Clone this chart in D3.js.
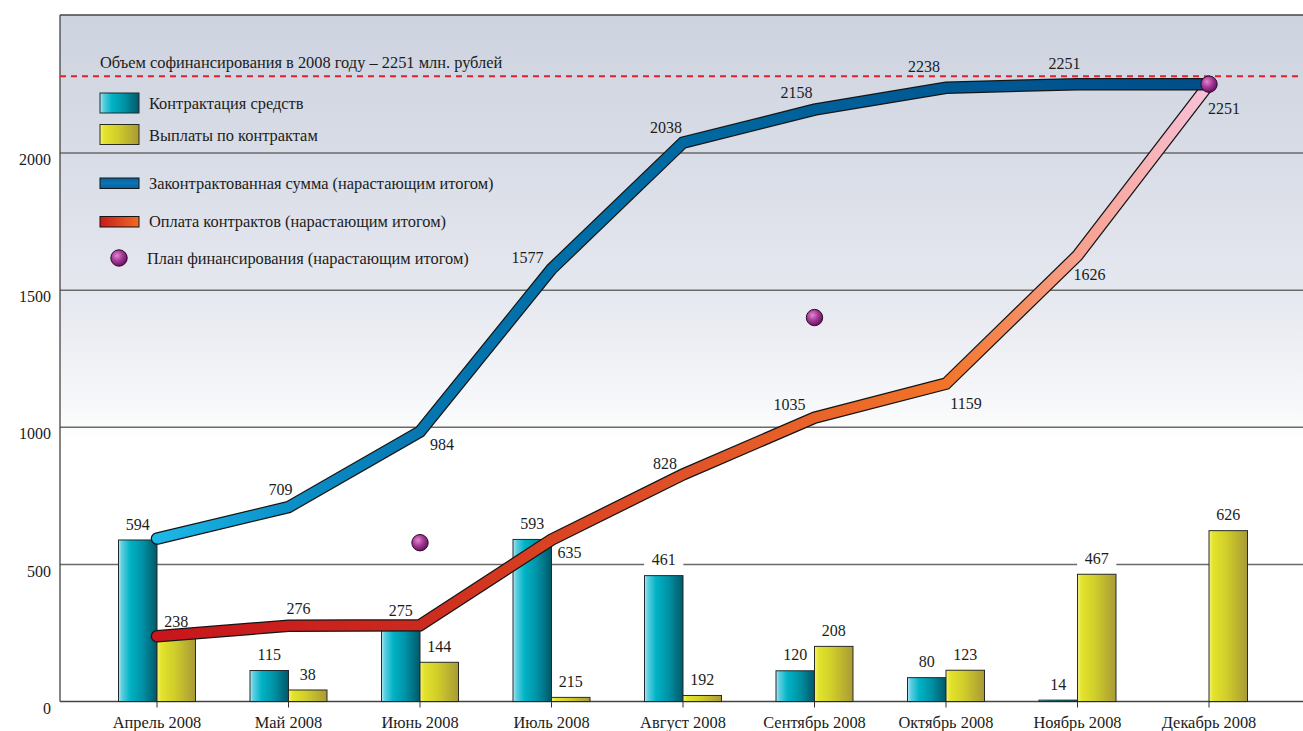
<!DOCTYPE html>
<html><head><meta charset="utf-8">
<script src="https://cdn.jsdelivr.net/npm/d3@7"></script>
<style>
body{margin:0;background:#fff}
svg{display:block}
</style>
</head><body><svg id="c" width="1303" height="731"></svg>
<script>
// ---- data ----
const months = ["Апрель 2008","Май 2008","Июнь 2008","Июль 2008","Август 2008","Сентябрь 2008","Октябрь 2008","Ноябрь 2008","Декабрь 2008"];
const contractValues = [589,113,275,591,459,112,87,5,0];
const contractLabels = ["594","115","275","593","461","120","80","14",""];
const paymentValues = [233,42,143,15,22,201,114,464,623];
const paymentLabels = ["238","38","144","215","192","208","123","467","626"];
const contractedCumulative = [594,709,984,1577,2038,2158,2238,2251,2251];
const contractedCumLabels = ["","709","984","1577","2038","2158","2238","2251",""];
const paidCumulative = [238,276,278,590,828,1035,1159,1626,2251];
const paidCumLabels = ["","276","","635","828","1035","1159","1626","2251"];
const planMonths = ["Июнь 2008","Сентябрь 2008","Декабрь 2008"];
const planValues = [579,1400,2251];
const cofinancingLevel = 2280;
const yTicks = [0,500,1000,1500,2000];
const legendTitle = "Объем софинансирования в 2008 году – 2251 млн. рублей";
const legendNames = ["Контрактация средств","Выплаты по контрактам","Законтрактованная сумма (нарастающим итогом)","Оплата контрактов (нарастающим итогом)","План финансирования (нарастающим итогом)"];

// label offsets (layout only)
const blueLabelOffsets = [null,[-8,-18],[22,13],[-24,-12],[-17,-15],[-18,-17],[-22,-21],[-13,-21],null];
const redLabelOffsets = [null,[10,-17],null,[18,13],[-18,-11],[-25,-13],[20,20],[12,19],[15,24]];

// ---- layout ----
const svg = d3.select("#c");
const L = 60, T = 15, R = 1303, B = 701.5;
const x = d3.scaleBand().domain(months).range([91.25, 1274.75]).padding(0);
const cx = m => x(m) + x.bandwidth()/2;
const y = d3.scaleLinear().domain([0,2500]).range([B, 15.9]);
const bw = 38.5;
const FONT = "'Liberation Serif','Tinos','DejaVu Serif',serif";
const INK = "#1c1c1c";

const defs = svg.append("defs");
function lin(id, stops, attrs){
  const g = defs.append("linearGradient").attr("id", id);
  Object.entries(attrs||{}).forEach(([k,v])=>g.attr(k,v));
  stops.forEach(s=>g.append("stop").attr("offset",s[0]).attr("stop-color",s[1]));
}
lin("bg", [[0,"#cdd3df"],[0.35,"#d9dde7"],[0.68,"#e7e9f0"],[0.92,"#f7f8fa"],[1,"#ffffff"]],
  {gradientUnits:"userSpaceOnUse",x1:0,y1:T,x2:0,y2:440});
lin("barBlue", [[0,"#b8e8f3"],[0.08,"#5fd0e2"],[0.3,"#00b3c5"],[0.62,"#0092a6"],[1,"#005868"]], {x1:0,y1:0,x2:1,y2:0});
lin("barYellow", [[0,"#f3f386"],[0.1,"#e4e42c"],[0.45,"#d0ce2a"],[1,"#a89a36"]], {x1:0,y1:0,x2:1,y2:0});
const x0 = cx(months[0]), x1 = cx(months[8]);
lin("lineBlue", [[0,"#1cb8e8"],[0.125,"#0b90c8"],[0.25,"#0777b1"],[0.375,"#006fa8"],[0.5,"#0069a1"],[0.7,"#005c96"],[1,"#004e88"]],
  {gradientUnits:"userSpaceOnUse",x1:x0,y1:0,x2:x1,y2:0});
lin("lineRed", [[0,"#c8161c"],[0.25,"#cc2a1e"],[0.375,"#da4322"],[0.5,"#e05228"],[0.75,"#f27428"],[0.875,"#f7a08e"],[1,"#f8c2da"]],
  {gradientUnits:"userSpaceOnUse",x1:x0,y1:0,x2:x1,y2:0});
lin("swBlue", [[0,"#0a5f9c"],[0.5,"#0b74b4"],[1,"#0a5f9c"]], {x1:0,y1:0,x2:0,y2:1});
lin("swRed", [[0,"#c81c1c"],[1,"#f06a24"]], {x1:0,y1:0,x2:1,y2:0});
const rg = defs.append("radialGradient").attr("id","dot").attr("cx","38%").attr("cy","35%").attr("r","65%");
[[0,"#e08ad0"],[0.5,"#a83c98"],[1,"#6a1262"]].forEach(s=>rg.append("stop").attr("offset",s[0]).attr("stop-color",s[1]));

// background
svg.append("rect").attr("x",L).attr("y",T).attr("width",R-L).attr("height",B-T).attr("fill","url(#bg)");

// gridlines
svg.append("g").selectAll("line").data(yTicks.filter(d=>d>0)).join("line")
  .attr("x1",L).attr("x2",R).attr("y1",d=>y(d)).attr("y2",d=>y(d))
  .attr("stroke","#6a6a6a").attr("stroke-width",1.5);

// y axis labels
const yAxis = svg.append("g").attr("transform",`translate(${L},0)`)
  .call(d3.axisLeft(y).tickValues(yTicks).tickSize(0).tickPadding(9).tickFormat(d3.format("d")));
yAxis.attr("font-family",FONT).attr("font-size",16);
yAxis.select(".domain").remove();
yAxis.selectAll("text").attr("fill",INK).attr("transform","translate(0,6.5)");

// x axis
const xAxis = svg.append("g").attr("transform",`translate(0,${B})`)
  .call(d3.axisBottom(x).tickSize(6).tickPadding(9));
xAxis.attr("font-family",FONT).attr("font-size",16.4);
xAxis.select(".domain").remove();
xAxis.selectAll("line").attr("stroke","#333");
xAxis.selectAll("text").attr("fill",INK);

// frame
svg.append("line").attr("x1",L).attr("x2",R).attr("y1",B).attr("y2",B).attr("stroke","#444").attr("stroke-width",1.5);
svg.append("line").attr("x1",L).attr("x2",L).attr("y1",T).attr("y2",B).attr("stroke","#444").attr("stroke-width",1.3);
svg.append("line").attr("x1",L).attr("x2",R).attr("y1",T).attr("y2",T).attr("stroke","#444").attr("stroke-width",1.3);

// bar label backgrounds (mask gridlines)
const barLabelData = [];
months.forEach((m,i)=>{
  if(contractLabels[i]) barLabelData.push({x:cx(m)-bw/2, y:y(contractValues[i])-16, t:contractLabels[i]});
  if(paymentLabels[i]) barLabelData.push({x:cx(m)+bw/2, y:y(paymentValues[i])-16, t:paymentLabels[i]});
});
svg.append("g").selectAll("rect").data(barLabelData.filter(d=>d.y>420)).join("rect")
  .attr("x",d=>d.x-d.t.length*4.2-7).attr("y",d=>d.y-9).attr("width",d=>d.t.length*8.4+14).attr("height",18)
  .attr("fill","#fff");

// bars
const bars = svg.append("g");
bars.selectAll(".cb").data(months.map((m,i)=>({m,v:contractValues[i]})).filter(d=>d.v>0)).join("rect")
  .attr("x",d=>cx(d.m)-bw).attr("width",bw).attr("y",d=>y(d.v)).attr("height",d=>B-y(d.v))
  .attr("fill","url(#barBlue)").attr("stroke","#1e2a2e").attr("stroke-width",1);
bars.selectAll(".pb").data(months.map((m,i)=>({m,v:paymentValues[i]}))).join("rect")
  .attr("x",d=>cx(d.m)).attr("width",bw).attr("y",d=>y(d.v)).attr("height",d=>B-y(d.v))
  .attr("fill","url(#barYellow)").attr("stroke","#2a2a22").attr("stroke-width",1);

// lines
const line = d3.line().x((d,i)=>cx(months[i])).y(d=>y(d));
function drawLine(vals, grad){
  svg.append("path").attr("d",line(vals)).attr("fill","none").attr("stroke","#151515")
    .attr("stroke-width",12.5).attr("stroke-linejoin","miter").attr("stroke-linecap","round");
  svg.append("path").attr("d",line(vals)).attr("fill","none").attr("stroke",grad)
    .attr("stroke-width",10).attr("stroke-linejoin","miter").attr("stroke-linecap","round");
}
drawLine(paidCumulative,"url(#lineRed)");
drawLine(contractedCumulative,"url(#lineBlue)");

// dashed co-financing line
svg.append("line").attr("x1",L).attr("x2",R).attr("y1",y(cofinancingLevel)).attr("y2",y(cofinancingLevel))
  .attr("stroke","#e0202c").attr("stroke-width",2).attr("stroke-dasharray","6,5");

// plan dots
svg.append("g").selectAll("circle").data(planMonths.map((m,i)=>({m,v:planValues[i]}))).join("circle")
  .attr("cx",d=>cx(d.m)).attr("cy",d=>y(d.v)).attr("r",8.2)
  .attr("fill","url(#dot)").attr("stroke","#2e0a2a").attr("stroke-width",1);

// labels
const lab = svg.append("g").attr("font-size",16).attr("font-family",FONT).attr("fill",INK);
lab.selectAll(".bl").data(barLabelData).join("text")
  .attr("x",d=>d.x).attr("y",d=>d.y).attr("dy","0.35em").attr("text-anchor","middle").text(d=>d.t);
months.forEach((m,i)=>{
  if(contractedCumLabels[i] && blueLabelOffsets[i]){
    const o = blueLabelOffsets[i];
    lab.append("text").attr("x",cx(m)+o[0]).attr("y",y(contractedCumulative[i])+o[1]).attr("dy","0.35em")
      .attr("text-anchor","middle").text(contractedCumLabels[i]);
  }
  if(paidCumLabels[i] && redLabelOffsets[i]){
    const o = redLabelOffsets[i];
    lab.append("text").attr("x",cx(m)+o[0]).attr("y",y(paidCumulative[i])+o[1]).attr("dy","0.35em")
      .attr("text-anchor","middle").text(paidCumLabels[i]);
  }
});

// legend
const lg = svg.append("g").attr("font-size",16.4).attr("font-family",FONT).attr("fill",INK);
lg.append("text").attr("x",100).attr("y",62).attr("dy","0.35em").text(legendTitle);
lg.append("rect").attr("x",100).attr("y",93).attr("width",39).attr("height",20).attr("fill","url(#barBlue)").attr("stroke","#1e2a2e");
lg.append("rect").attr("x",100).attr("y",124.5).attr("width",39).attr("height",20).attr("fill","url(#barYellow)").attr("stroke","#2a2a22");
lg.append("rect").attr("x",100).attr("y",178).attr("width",39).attr("height",10.5).attr("fill","url(#swBlue)").attr("stroke","#151515");
lg.append("rect").attr("x",100).attr("y",216.5).attr("width",39).attr("height",10.5).attr("fill","url(#swRed)").attr("stroke","#151515");
lg.append("circle").attr("cx",119).attr("cy",258).attr("r",8.2).attr("fill","url(#dot)").attr("stroke","#2e0a2a");
const ly = [103,135,183,221,258];
legendNames.forEach((n,i)=>{
  lg.append("text").attr("x",i===4?147:149).attr("y",ly[i]).attr("dy","0.35em").text(n);
});
</script>
</body></html>
